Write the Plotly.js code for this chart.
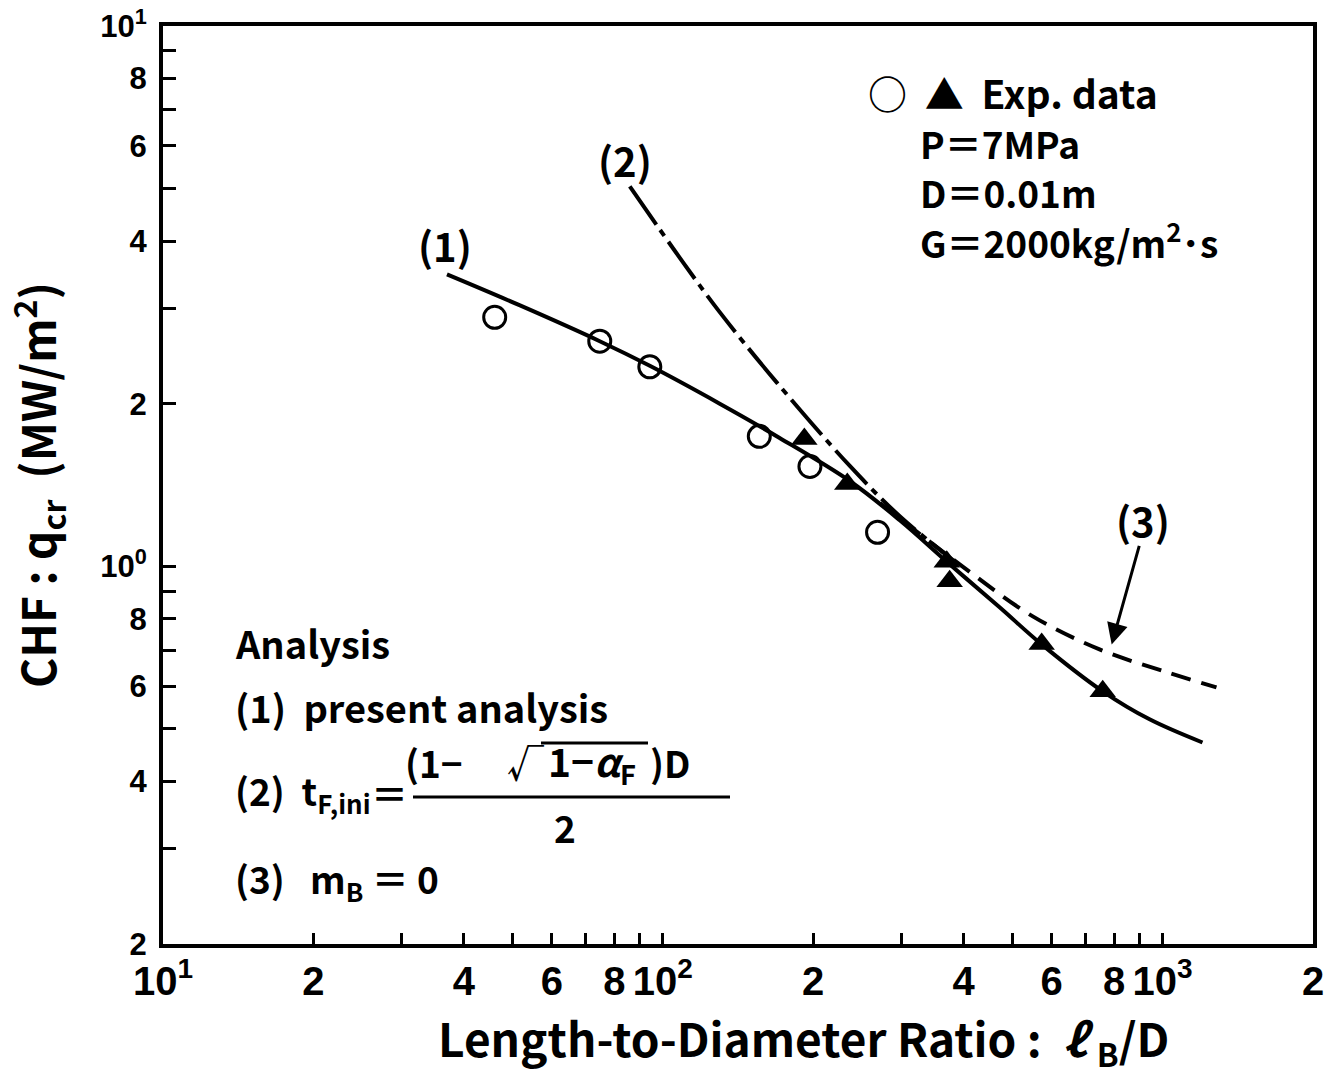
<!DOCTYPE html>
<html><head><meta charset="utf-8">
<script src="https://cdn.plot.ly/plotly-3.0.1.min.js"></script>
<style>body{margin:0;background:#fff}</style>
</head><body>
<div id="chart" style="width:1338px;height:1075px"></div>
<script>
const circX = [46.1, 74.8, 94.2, 156, 197, 269];
const circY = [2.89, 2.61, 2.34, 1.74, 1.53, 1.156];
const triX = [192, 234, 370, 375, 573, 759];
const triY = [1.72, 1.42, 1.02, 0.938, 0.718, 0.587];

// Analysis curves
const c1X = [37, 51.8, 74.8, 94.2, 130, 171, 237, 298, 375, 472, 573, 759, 942, 1202];
const c1Y = [3.47, 3.04, 2.61, 2.35, 2.00, 1.73, 1.437, 1.217, 1.009, 0.840, 0.717, 0.587, 0.521, 0.472];
const c2X = [85.9, 109.6, 130, 169, 237, 298, 384];
const c2Y = [5.05, 3.66, 2.954, 2.19, 1.532, 1.238, 1.02];
const c3X = [272, 405, 550, 748, 1019, 1282];
const c3Y = [1.31, 0.987, 0.808, 0.702, 0.637, 0.597];

// Tick labels
const NB = '\u00a0';
const xTickVals = [10,20,30,40,50,60,70,80,90,100,200,300,400,500,600,700,800,900,1000,2000];
const xTickText = ['10<sup>1</sup>','2','','4','','6','','8','','10<sup>2</sup>','2','','4','','6','','8','','10<sup>3</sup>','2'];
const yTickVals = [0.2,0.3,0.4,0.5,0.6,0.7,0.8,0.9,1,2,3,4,5,6,7,8,9,10];
const yTickText = ['2','','4','','6','','8','','10<sup>0</sup>','2','','4','','6','','8','','10<sup>1</sup>'];

const L = 163, R = 1313, T = 26, B = 944;
function px(x){ return (x - L) / (R - L); }
function py(y){ return (B - y) / (B - T); }

const FAM = '"Noto Sans CJK JP", "Noto Sans", sans-serif';
const txtFont = {family: FAM, size: 37, weight: 700, color: '#000'};
function f(size){ return Object.assign({}, txtFont, {size: size}); }

const traces = [
  {x: c1X, y: c1Y, mode: 'lines', line: {color: '#000', width: 4, shape: 'spline', smoothing: 1}, hoverinfo: 'skip'},
  {x: c2X, y: c2Y, mode: 'lines', line: {color: '#000', width: 4, dash: '46px,7px,7px,7px', shape: 'spline', smoothing: 1}, hoverinfo: 'skip'},
  {x: c3X, y: c3Y, mode: 'lines', line: {color: '#000', width: 4, dash: '20px,11px', shape: 'spline', smoothing: 1}, hoverinfo: 'skip'},
  {x: circX, y: circY, mode: 'markers', marker: {symbol: 'circle-open', size: 22, color: '#000', line: {width: 3, color: '#000'}}},
  {x: triX, y: triY, mode: 'markers', marker: {symbol: 'triangle-up', size: 23, color: '#000'}}
];

function ann(x, y, text, opts){
  return Object.assign({xref: 'paper', yref: 'paper', x: px(x), y: py(y), text: text, showarrow: false,
    xanchor: 'left', yanchor: 'middle', font: txtFont}, opts || {});
}

const annotations = [
  ann(866, 92, '○' + NB + NB + '▲' + NB + NB + 'Exp. data', {font: f(39)}),
  ann(918, 143, 'P＝7MPa'),
  ann(918, 192, 'D＝0.01m'),
  ann(918, 241, 'G＝2000kg/m<sup>2</sup>･s'),
  ann(233, 642, 'Analysis', {font: f(38)}),
  ann(233, 706, '(1)' + NB + NB + 'present analysis', {font: f(38)}),
  ann(233, 792, '(2)' + NB + NB + 't<sub>F,ini</sub>'),
  ann(410, 793, '＝', {xanchor: 'right'}),
  ann(403, 762, '(1−'),
  ann(546, 762, '√', {xanchor: 'right'}),
  ann(546, 762, '1−<i>α</i><sub>F</sub>', {font: f(39)}),
  ann(648, 762, ')D'),
  ann(565, 827, '2', {xanchor: 'center'}),
  ann(233, 880, '(3)' + NB + NB + NB + 'm<sub>B</sub>' + NB + '＝' + NB + '0'),
  ann(445, 245, '(1)', {xanchor: 'center', font: f(40)}),
  ann(625, 160, '(2)', {xanchor: 'center', font: f(40)}),
  ann(1143, 520, '(3)', {xanchor: 'center', font: f(40)}),
  // x-axis title (placed right of centre as in the original figure)
  ann(803, 1040, 'Length-to-Diameter Ratio :' + NB + NB + '<i>ℓ</i>' + NB + '<sub>B</sub>/D', {xanchor: 'center', font: f(46)}),
  {xref: 'x', yref: 'y', x: Math.log10(791), y: Math.log10(0.717), ax: 28, ay: -100, axref: 'pixel', ayref: 'pixel',
   text: '', showarrow: true, arrowhead: 2, arrowsize: 1.4, arrowwidth: 3, arrowcolor: '#000', standoff: 0}
];

const shapes = [
  {type: 'line', xref: 'paper', yref: 'paper', x0: px(413), x1: px(730), y0: py(797), y1: py(797), line: {color: '#000', width: 3}},
  {type: 'line', xref: 'paper', yref: 'paper', x0: px(541), x1: px(648), y0: py(743), y1: py(743), line: {color: '#000', width: 3}}
];

const axisCommon = {
  type: 'log', showgrid: false, zeroline: false, showline: true, mirror: true,
  linecolor: '#000', linewidth: 4, ticks: 'inside', tickcolor: '#000', tickwidth: 3
};

const layout = {
  width: 1338, height: 1075,
  margin: {l: L, r: 1338 - R, t: T, b: 1075 - B},
  paper_bgcolor: '#fff', plot_bgcolor: '#fff',
  showlegend: false,
  xaxis: Object.assign({}, axisCommon, {
    range: [1, Math.log10(2000)], tickvals: xTickVals, ticktext: xTickText, ticklen: 11, tickangle: 0,
    tickfont: {family: '"Liberation Sans Narrow", "Liberation Sans", sans-serif', size: 40, weight: 700, color: '#000'},
    ticklabelstandoff: -1
  }),
  yaxis: Object.assign({}, axisCommon, {
    range: [Math.log10(0.2), 1], tickvals: yTickVals, ticktext: yTickText, ticklen: 13, tickangle: 0,
    tickfont: {family: '"Liberation Sans", sans-serif', size: 31, weight: 700, color: '#000'},
    ticklabelstandoff: 6,
    title: {text: 'CHF : q<sub>cr</sub>' + NB + NB + '(MW/m<sup>2</sup>)', standoff: 30,
      font: {family: FAM, size: 46, weight: 700, color: '#000'}}
  }),
  annotations: annotations,
  shapes: shapes
};

Plotly.newPlot('chart', traces, layout, {staticPlot: true, displayModeBar: false});
</script>
</body></html>
